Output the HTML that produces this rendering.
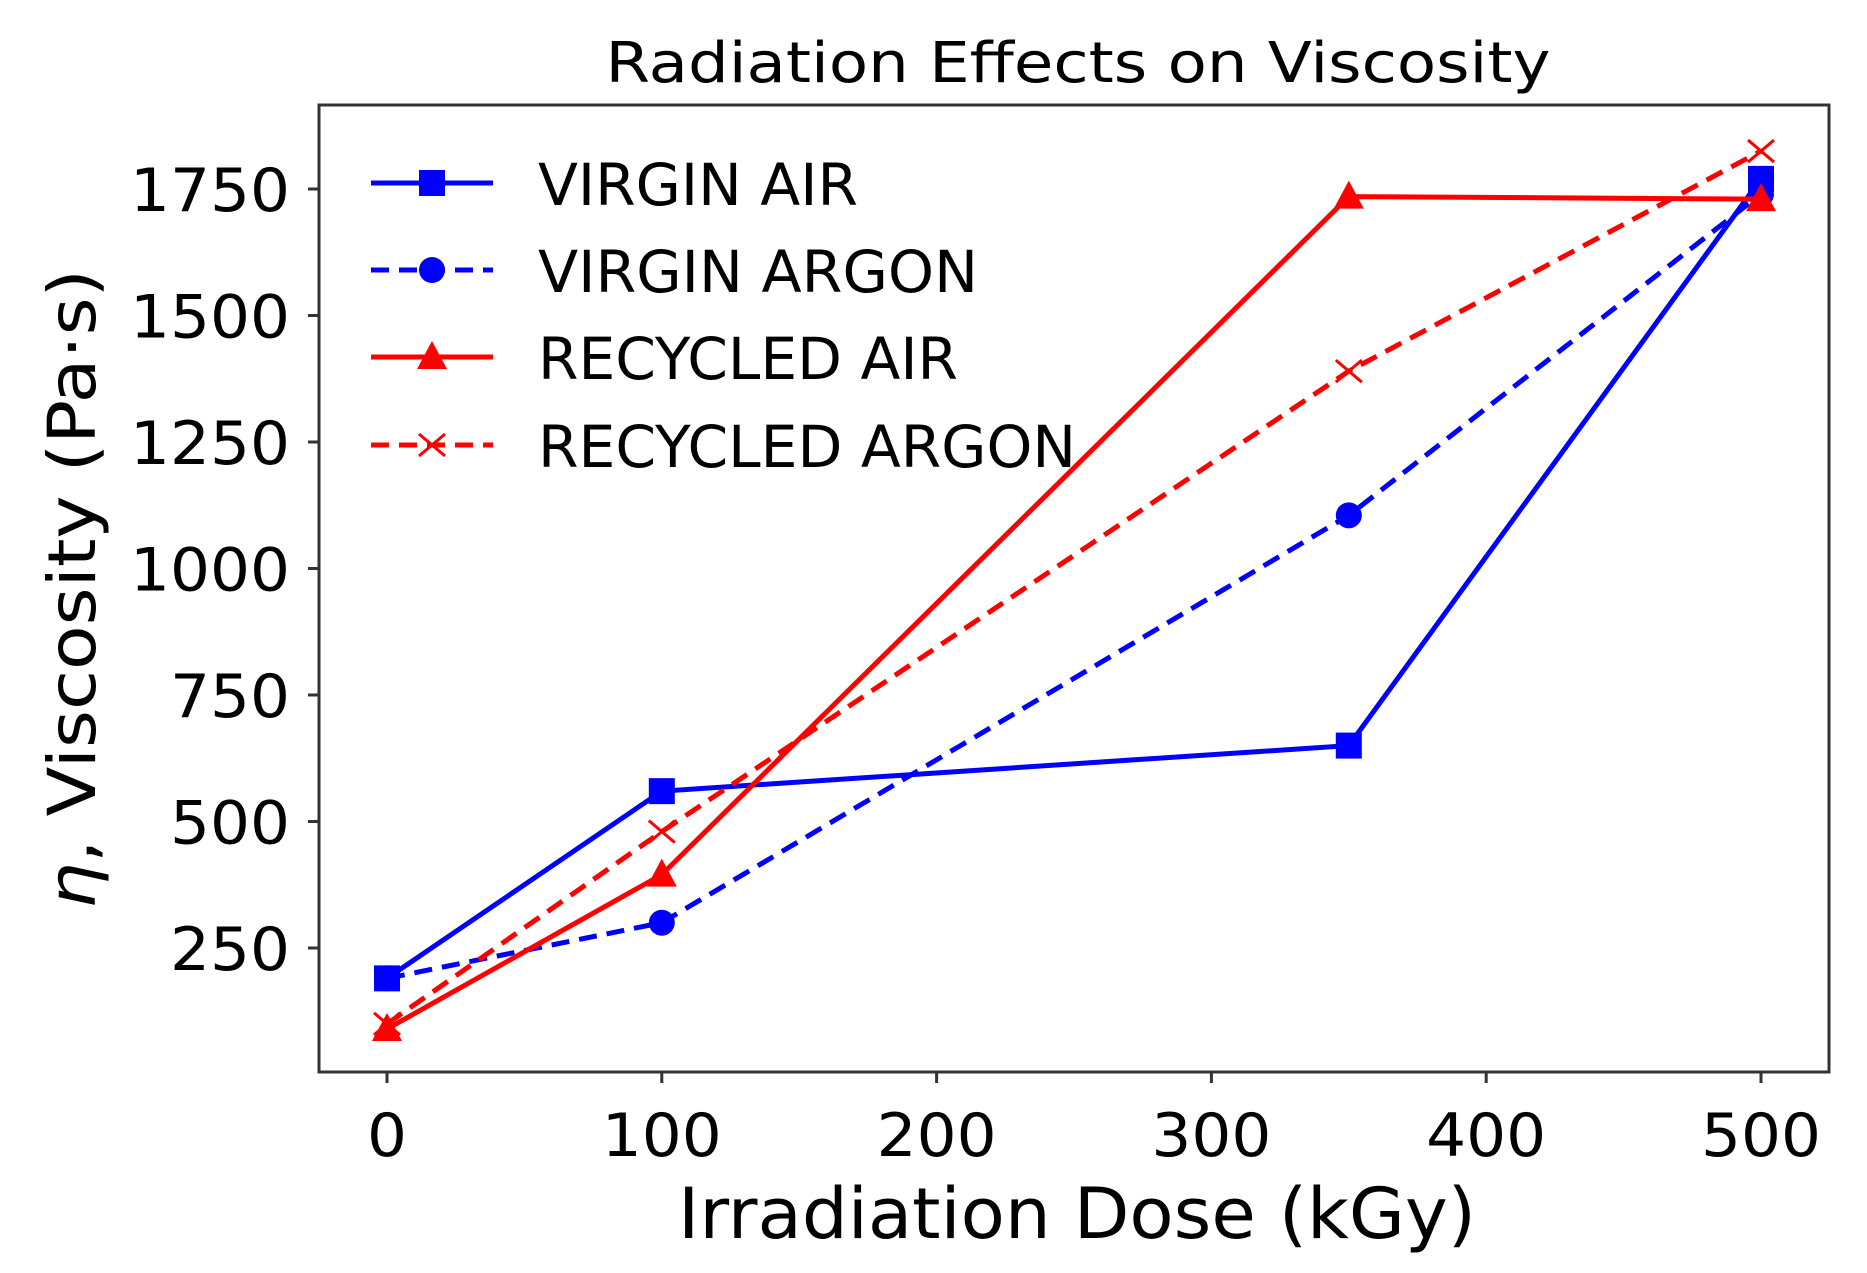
<!DOCTYPE html>
<html><head><meta charset="utf-8"><style>
html,body{margin:0;padding:0;background:#fff;}
svg{display:block;font-family:"DejaVu Sans","Liberation Sans",sans-serif;}
</style></head><body>
<svg id="chart" width="1867" height="1273" viewBox="0 0 1867 1273" xmlns="http://www.w3.org/2000/svg">
<text x="1078" y="82" font-size="56" text-anchor="middle" textLength="945" lengthAdjust="spacingAndGlyphs">Radiation Effects on Viscosity</text>
<rect x="319" y="105" width="1510" height="967" fill="none" stroke="#333" stroke-width="3"/>
<g id="xt"></g><g id="yt"></g><g id="series"></g>
<text x="1077" y="1238" font-size="70" text-anchor="middle" textLength="798" lengthAdjust="spacingAndGlyphs">Irradiation Dose (kGy)</text>
<text transform="translate(95,589) rotate(-90)" font-size="66" text-anchor="middle" textLength="640" lengthAdjust="spacingAndGlyphs"><tspan font-style="italic">η</tspan>, Viscosity (Pa·s)</text>
<g id="legend"></g>
</svg>
<script>
const doses = [0, 100, 350, 500];
const virginAir = [190, 560, 650, 1770];
const virginArgon = [190, 300, 1105, 1740];
const recycledAir = [90, 395, 1735, 1730];
const recycledArgon = [100, 480, 1390, 1825];
const xTicks = [0, 100, 200, 300, 400, 500];
const yTicks = [250, 500, 750, 1000, 1250, 1500, 1750];
const seriesNames = ["VIRGIN AIR", "VIRGIN ARGON", "RECYCLED AIR", "RECYCLED ARGON"];

const NS = "http://www.w3.org/2000/svg";
function X(v){ return 387 + v * (1761 - 387) / 500; }
function Y(v){ return 948 - (v - 250) * (948 - 189) / 1500; }
function mk(tag, attrs, parent){ const e = document.createElementNS(NS, tag); for (const k in attrs) e.setAttribute(k, attrs[k]); parent.appendChild(e); return e; }

const xt = document.getElementById('xt');
xTicks.forEach(t => {
  const l = mk('line', {x1: X(t), x2: X(t), y1: 1072, y2: 1083, stroke: '#333', 'stroke-width': 3}, xt);
  
  
  const s = String(t);
  const tx = mk('text', {x: X(t), y: 1156, 'font-size': 60, 'text-anchor': 'middle', textLength: s.length * 40, lengthAdjust: 'spacingAndGlyphs'}, xt);
  tx.textContent = s;
  
  
});
const yt = document.getElementById('yt');
yTicks.forEach(t => {
  const l = mk('line', {x1: 308, x2: 319, y1: Y(t), y2: Y(t), stroke: '#333', 'stroke-width': 3}, yt);
  
  
  const s = String(t);
  const tx = mk('text', {x: 290, y: Y(t) + 22, 'font-size': 60, 'text-anchor': 'end', textLength: s.length * 40, lengthAdjust: 'spacingAndGlyphs'}, yt);
  tx.textContent = s;
  
  
});

function marker(type, cx, cy, color, g){
  let e;
  if (type === 'square') e = mk('rect', {x: cx - 13, y: cy - 13, width: 26, height: 26, fill: color}, g);
  else if (type === 'circle') e = mk('circle', {cx: cx, cy: cy, r: 13, fill: color}, g);
  else if (type === 'triangle') e = mk('polygon', {points: `${cx},${cy-16} ${cx-15},${cy+12} ${cx+15},${cy+12}`, fill: color}, g);
  else e = mk('path', {d: `M${cx-13},${cy-11}L${cx+13},${cy+11}M${cx-13},${cy+11}L${cx+13},${cy-11}`, stroke: color, 'stroke-width': 3, fill: 'none'}, g);
  return e;
}
const defs = [
  {vals: virginAir, color: '#0000ff', dash: null, m: 'square', key: 'virgin-air'},
  {vals: virginArgon, color: '#0000ff', dash: '18,10', m: 'circle', key: 'virgin-argon'},
  {vals: recycledAir, color: '#ff0000', dash: null, m: 'triangle', key: 'recycled-air'},
  {vals: recycledArgon, color: '#ff0000', dash: '18,10', m: 'x', key: 'recycled-argon'}
];
const sg = document.getElementById('series');
defs.forEach(d => {
  const g = mk('g', {}, sg);
  
  
  const pts = doses.map((x, i) => X(x) + ',' + Y(d.vals[i])).join(' ');
  const pl = mk('polyline', {points: pts, fill: 'none', stroke: d.color, 'stroke-width': 5}, g);
  if (d.dash) pl.setAttribute('stroke-dasharray', d.dash);
  
  
  doses.forEach((x, i) => {
    const m = marker(d.m, X(x), Y(d.vals[i]), d.color, g);
    
    
  });
});
const lg = document.getElementById('legend');
const rowY = [183, 270, 357, 445];
const txtW = [320, 440, 420, 538];
defs.forEach((d, i) => {
  const g = mk('g', {}, lg);
  
  
  const l = mk('line', {x1: 371, x2: 493, y1: rowY[i], y2: rowY[i], stroke: d.color, 'stroke-width': 5}, g);
  if (d.dash) l.setAttribute('stroke-dasharray', '18,10');
  marker(d.m, 432, rowY[i], d.color, g);
  const t = mk('text', {x: 538, y: rowY[i] + 22, 'font-size': 58, textLength: txtW[i], lengthAdjust: 'spacingAndGlyphs'}, g);
  t.textContent = seriesNames[i];
});
</script>
</body></html>
